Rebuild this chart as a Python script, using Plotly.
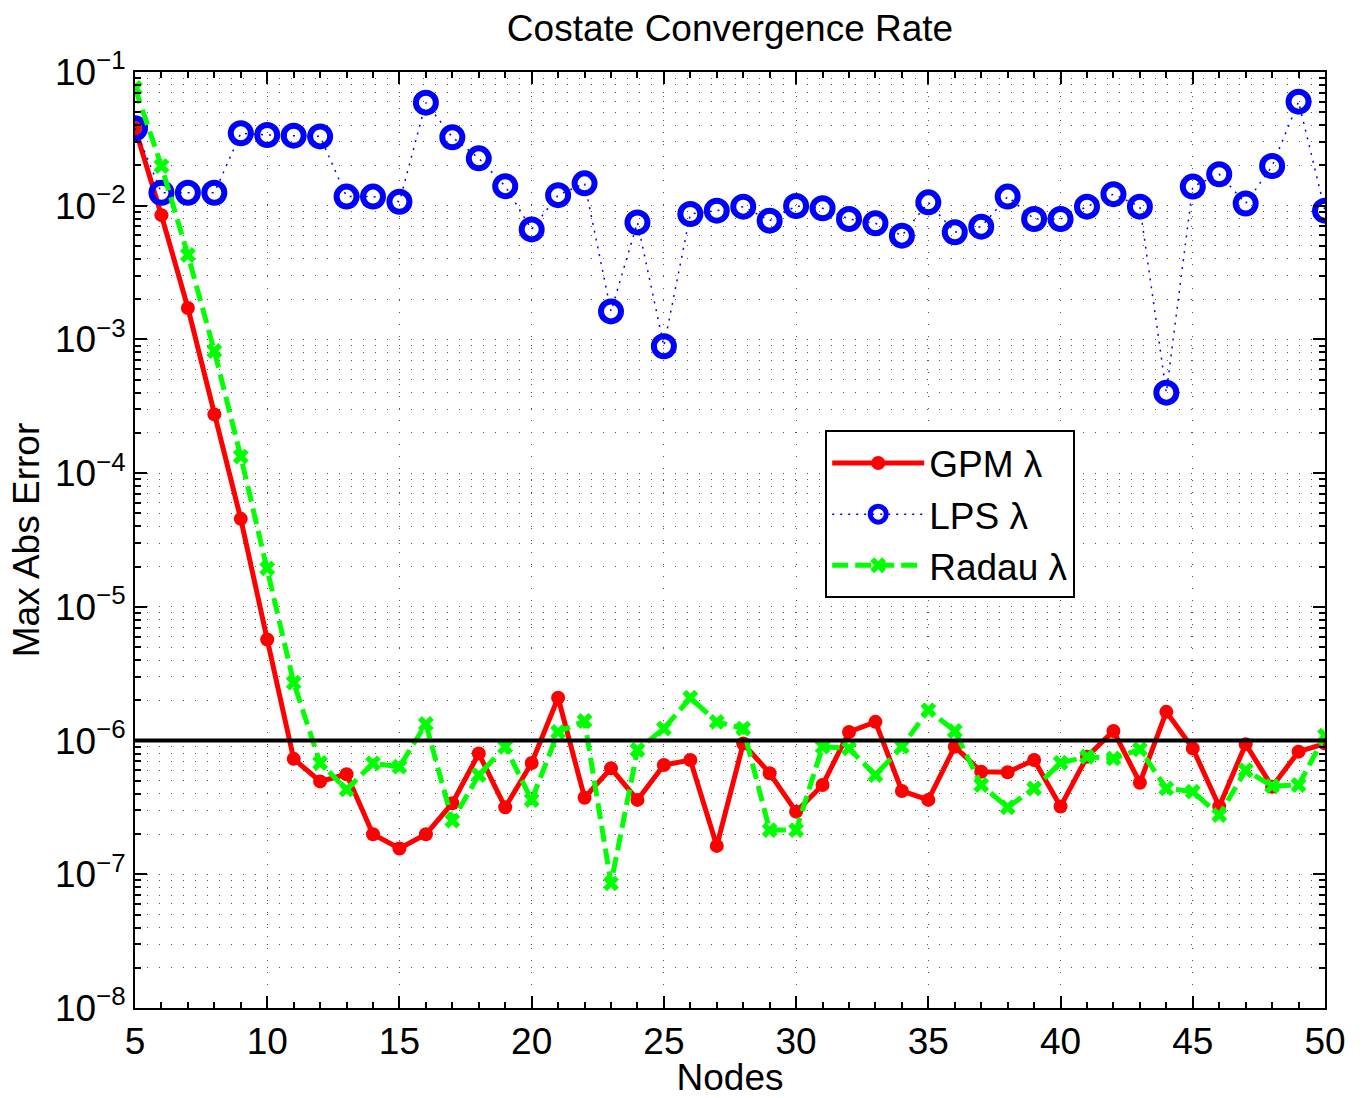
import plotly.graph_objects as go

nodes = list(range(5, 51))

gpm = [3.8e-2, 8.5e-3, 1.72e-3, 2.75e-4, 4.55e-5, 5.7e-6, 7.3e-7, 4.95e-7, 5.6e-7, 1.99e-7,
       1.56e-7, 1.99e-7, 3.4e-7, 8.0e-7, 3.17e-7, 6.8e-7, 2.09e-6, 3.74e-7, 6.2e-7, 3.6e-7,
       6.56e-7, 7.15e-7, 1.63e-7, 9.5e-7, 5.7e-7, 2.94e-7, 4.65e-7, 1.16e-6, 1.38e-6, 4.2e-7,
       3.6e-7, 9.0e-7, 5.85e-7, 5.8e-7, 7.15e-7, 3.21e-7, 7.57e-7, 1.18e-6, 4.84e-7, 1.64e-6,
       8.74e-7, 3.21e-7, 9.4e-7, 4.52e-7, 8.26e-7, 9.5e-7]

lps = [3.8e-2, 1.25e-2, 1.25e-2, 1.25e-2, 3.48e-2, 3.38e-2, 3.34e-2, 3.3e-2, 1.17e-2, 1.17e-2,
       1.07e-2, 5.9e-2, 3.25e-2, 2.26e-2, 1.4e-2, 6.65e-3, 1.2e-2, 1.47e-2, 1.62e-3, 7.5e-3,
       8.9e-4, 8.67e-3, 9.18e-3, 9.84e-3, 7.73e-3, 9.95e-3, 9.57e-3, 7.96e-3, 7.39e-3, 5.97e-3,
       1.06e-2, 6.33e-3, 6.97e-3, 1.17e-2, 7.96e-3, 7.96e-3, 9.84e-3, 1.22e-2, 9.84e-3, 4.0e-4,
       1.39e-2, 1.72e-2, 1.04e-2, 1.98e-2, 6.0e-2, 9.18e-3]

radau = [7.6e-2, 1.98e-2, 4.28e-3, 8.19e-4, 1.33e-4, 1.94e-5, 2.71e-6, 6.8e-7, 4.31e-7, 6.76e-7,
         6.38e-7, 1.33e-6, 2.52e-7, 5.52e-7, 9.0e-7, 3.59e-7, 1.16e-6, 1.4e-6, 8.55e-8, 8.5e-7,
         1.23e-6, 2.09e-6, 1.38e-6, 1.23e-6, 2.14e-7, 2.14e-7, 9.0e-7, 8.74e-7, 5.52e-7, 9.0e-7,
         1.69e-6, 1.18e-6, 4.65e-7, 3.17e-7, 4.39e-7, 6.82e-7, 7.57e-7, 7.35e-7, 8.6e-7, 4.39e-7,
         4.15e-7, 2.77e-7, 6.0e-7, 4.57e-7, 4.65e-7, 1.09e-6]

tolerance = 1e-6
x_ticks = [5, 10, 15, 20, 25, 30, 35, 40, 45, 50]
y_exponents = [-1, -2, -3, -4, -5, -6, -7, -8]

FONT = "Liberation Sans, Arial, Helvetica, sans-serif"
GRID = "#555"
GDASH = "1px,11px"
FS = 37

fig = go.Figure()
fig.add_trace(go.Scatter(
    x=nodes, y=gpm, mode="lines+markers", name="GPM λ",
    line=dict(color="#ff0000", width=5),
    marker=dict(symbol="circle", size=14, color="#ff0000")))
fig.add_trace(go.Scatter(
    x=nodes, y=lps, mode="lines+markers", name="LPS λ",
    line=dict(color="#0000ff", width=1.5, dash="2px,6px"),
    marker=dict(symbol="circle-open", size=20, color="#0000ff", line=dict(width=6, color="#0000ff"))))
fig.add_trace(go.Scatter(
    x=nodes, y=radau, mode="lines+markers", name="Radau λ",
    line=dict(color="#00ff00", width=5, dash="16px,7px"),
    marker=dict(symbol="x", size=14, color="#00ff00")))
fig.add_trace(go.Scatter(
    x=[nodes[0], nodes[-1]], y=[tolerance, tolerance], mode="lines", showlegend=False,
    line=dict(color="black", width=4), hoverinfo="skip"))

fig.update_layout(
    width=1364, height=1098,
    margin=dict(l=135, r=39, t=72, b=90),
    paper_bgcolor="white", plot_bgcolor="white",
    font=dict(family=FONT, size=FS, color="black"),
    title=dict(text="Costate Convergence Rate", x=(135 + 1325) / 2 / 1364, xanchor="center",
               y=1 - 28 / 1098, yanchor="middle", font=dict(size=FS)),
    legend=dict(x=0.58, y=0.617, xanchor="left", yanchor="top",
                bgcolor="white", bordercolor="black", borderwidth=2,
                font=dict(size=FS), itemwidth=92, tracegroupgap=0),
    showlegend=True,
)

fig.update_xaxes(
    range=[5, 50], tickvals=x_ticks, ticktext=[str(v) for v in x_ticks],
    tickfont=dict(size=FS), automargin=False,
    title=dict(text="Nodes", font=dict(size=FS), standoff=2),
    showline=True, linecolor="black", linewidth=2, mirror="allticks",
    ticks="inside", ticklen=12, tickwidth=1.5, tickcolor="black",
    showgrid=True, gridcolor=GRID, gridwidth=1, griddash=GDASH,
    zeroline=False,
    minor=dict(dtick=1, ticks="inside", ticklen=6, tickcolor="black", showgrid=False),
)
fig.update_yaxes(
    type="log", range=[-8, -1],
    tickvals=[10.0 ** e for e in y_exponents],
    ticktext=["10<sup>−%d</sup>" % (-e) for e in y_exponents],
    tickfont=dict(size=FS), automargin=False,
    title=dict(text="Max Abs Error", font=dict(size=FS), standoff=4),
    showline=True, linecolor="black", linewidth=2, mirror="allticks",
    ticks="inside", ticklen=12, tickwidth=1.5, tickcolor="black",
    showgrid=True, gridcolor=GRID, gridwidth=1, griddash=GDASH,
    zeroline=False,
    minor=dict(dtick="D1", ticks="inside", ticklen=6, tickcolor="black",
               showgrid=True, gridcolor=GRID, gridwidth=1, griddash=GDASH),
)

fig.write_html("out.html")
